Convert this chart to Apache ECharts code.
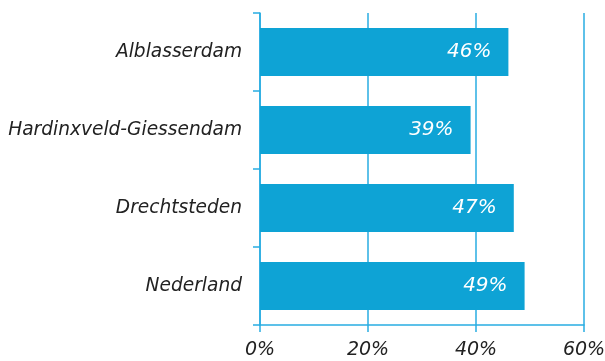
<!DOCTYPE html>
<html>
<head>
<meta charset="utf-8">
<script src="https://cdn.jsdelivr.net/npm/echarts@6/dist/echarts.min.js"></script>
<style>
  html, body { margin: 0; padding: 0; background: #fff; }
  #chart { width: 605px; height: 361px; }
</style>
</head>
<body>
<div id="chart"></div>
<script>
// Share per area (percent), listed top to bottom
const categories = ['Alblasserdam', 'Hardinxveld-Giessendam', 'Drechtsteden', 'Nederland'];
const values = [46, 39, 47, 49];
const xTicks = [0, 20, 40, 60];

const lineBlue = '#29ade2';
const barBlue = '#0ea3d5';
const font = 'DejaVu Sans';

const chart = echarts.init(document.getElementById('chart'));
chart.setOption({
  animation: false,
  grid: { left: 260, right: 21, top: 13, bottom: 36, containLabel: false, outerBoundsMode: 'none' },
  xAxis: {
    type: 'value',
    min: xTicks[0],
    max: xTicks[xTicks.length - 1],
    interval: 20,
    axisLine: { show: true, lineStyle: { color: lineBlue, width: 1.5 } },
    axisTick: { show: true, length: 7, lineStyle: { color: lineBlue, width: 1.5 } },
    splitLine: { show: true, lineStyle: { color: lineBlue, width: 1.5 } },
    axisLabel: {
      formatter: v => v + '%',
      color: '#222',
      fontFamily: font,
      fontStyle: 'italic',
      fontSize: 19,
      margin: 16
    }
  },
  yAxis: {
    type: 'category',
    data: categories,
    inverse: true,
    axisLine: { show: true, lineStyle: { color: lineBlue, width: 1.5 } },
    axisTick: { show: true, length: 7, lineStyle: { color: lineBlue, width: 1.5 } },
    axisLabel: {
      color: '#222',
      fontFamily: font,
      fontStyle: 'italic',
      fontSize: 18.6,
      margin: 18
    }
  },
  series: [{
    type: 'bar',
    data: values,
    barWidth: 48,
    itemStyle: { color: barBlue },
    label: {
      show: true,
      position: 'insideRight',
      distance: 17,
      formatter: p => p.value + '%',
      color: '#fff',
      fontFamily: font,
      fontStyle: 'italic',
      fontSize: 20
    }
  }]
});
</script>
</body>
</html>
